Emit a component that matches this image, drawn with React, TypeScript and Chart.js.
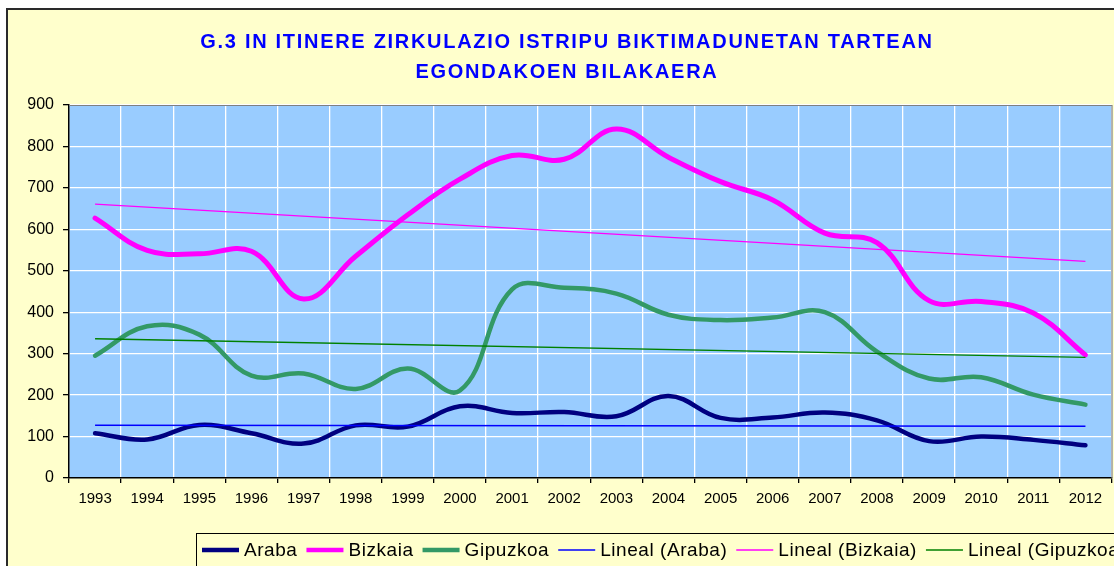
import React, { useEffect, useRef } from 'react';
import { Chart, registerables } from 'chart.js';

Chart.register(...registerables);

// ---- data ----
const years = ['1993', '1994', '1995', '1996', '1997', '1998', '1999', '2000', '2001', '2002',
  '2003', '2004', '2005', '2006', '2007', '2008', '2009', '2010', '2011', '2012'];

const araba = [108, 93, 128, 108, 83, 127, 124, 173, 157, 159, 149, 198, 145, 146, 158, 139, 89, 100, 92, 79];
const bizkaia = [627, 549, 541, 547, 432, 535, 635, 721, 778, 769, 842, 774, 715, 671, 591, 568, 428, 426, 398, 297];
const gipuzkoa = [295, 366, 346, 247, 252, 215, 264, 211, 455, 459, 445, 394, 381, 387, 400, 305, 240, 243, 201, 177];

// linear trend lines: value at first and last year
const arabaTrend = [127.5, 124.8];
const bizkaiaTrend = [661, 522.5];
const gipuzkoaTrend = [336, 291];

const yTicksMax = 900;
const yTicksStep = 100;

const titleLines = ['G.3 IN ITINERE ZIRKULAZIO ISTRIPU BIKTIMADUNETAN TARTEAN', 'EGONDAKOEN BILAKAERA'];

const FONT = '"Liberation Sans", Arial, sans-serif';

const trendData = (ends: number[]) =>
  years.map((_, i) => (i === 0 ? ends[0] : i === years.length - 1 ? ends[1] : null));

const setSpacing = (ctx: any, v: string) => {
  try { ctx.letterSpacing = v; } catch (e) { /* ignore */ }
};

const framePlugin = {
  id: 'excelFrame',
  beforeDraw(chart: any) {
    const { ctx, chartArea: a, width, height } = chart;
    ctx.save();
    ctx.fillStyle = '#ffffff';
    ctx.fillRect(0, 0, width, height);
    ctx.fillStyle = '#FFFFCC';
    ctx.fillRect(7, 9, width, height);
    ctx.strokeStyle = '#2a2a2a';
    ctx.lineWidth = 2;
    ctx.beginPath();
    ctx.moveTo(7, height);
    ctx.lineTo(7, 9);
    ctx.lineTo(width, 9);
    ctx.stroke();
    // plot area
    ctx.fillStyle = '#99CCFF';
    ctx.fillRect(a.left, a.top, a.right - a.left, a.bottom - a.top);
    // title
    ctx.fillStyle = '#0000FF';
    ctx.font = 'bold 20px ' + FONT;
    ctx.textAlign = 'center';
    ctx.textBaseline = 'middle';
    setSpacing(ctx, '1.7px');
    ctx.fillText(titleLines[0], 567, 42);
    ctx.fillText(titleLines[1], 567, 72);
    setSpacing(ctx, '0px');
    ctx.restore();
  },
  afterDraw(chart: any) {
    const { ctx, chartArea: a, width, height } = chart;
    ctx.save();
    // plot border top / right
    ctx.strokeStyle = '#808080';
    ctx.lineWidth = 1.2;
    ctx.beginPath();
    ctx.moveTo(a.left, a.top + 0.5);
    ctx.lineTo(a.right + 0.5, a.top + 0.5);
    ctx.lineTo(a.right + 0.5, a.bottom);
    ctx.stroke();

    // legend box
    ctx.fillStyle = '#FFFFCC';
    ctx.fillRect(196.5, 533.5, width, height);
    ctx.strokeStyle = '#000';
    ctx.lineWidth = 1;
    ctx.strokeRect(196.5, 533.5, width, height);

    // legend items
    const yMid = 550;
    let x = 202;
    ctx.font = '19px ' + FONT;
    ctx.textBaseline = 'middle';
    ctx.textAlign = 'left';
    setSpacing(ctx, '0.55px');
    chart.data.datasets.forEach((ds: any) => {
      ctx.strokeStyle = ds.borderColor;
      ctx.lineWidth = ds.borderWidth > 2 ? 4.5 : 1.5;
      ctx.lineCap = 'butt';
      ctx.beginPath();
      ctx.moveTo(x, yMid);
      ctx.lineTo(x + 37, yMid);
      ctx.stroke();
      x += 37 + 5;
      ctx.fillStyle = '#000';
      ctx.fillText(ds.label, x, yMid + 1);
      x += ctx.measureText(ds.label).width + 9;
    });
    setSpacing(ctx, '0px');
    ctx.restore();
  },
};

export default function App() {
  const ref = useRef<HTMLCanvasElement | null>(null);

  useEffect(() => {
    if (!ref.current) return;
    const thick = { pointRadius: 0, pointHoverRadius: 0, tension: 0.4, fill: false, borderCapStyle: 'round', borderJoinStyle: 'round', order: 2 };
    const thin = { pointRadius: 0, pointHoverRadius: 0, tension: 0, fill: false, spanGaps: true, order: 1 };
    const chart = new Chart(ref.current, {
      type: 'line',
      data: {
        labels: years,
        datasets: [
          { label: 'Araba', data: araba, borderColor: '#000080', backgroundColor: '#000080', borderWidth: 4.5, ...thick } as any,
          { label: 'Bizkaia', data: bizkaia, borderColor: '#FF00FF', backgroundColor: '#FF00FF', borderWidth: 5, ...thick } as any,
          { label: 'Gipuzkoa', data: gipuzkoa, borderColor: '#339966', backgroundColor: '#339966', borderWidth: 4.5, ...thick } as any,
          { label: 'Lineal (Araba)', data: trendData(arabaTrend), borderColor: '#0000FF', backgroundColor: '#0000FF', borderWidth: 1.5, ...thin } as any,
          { label: 'Lineal (Bizkaia)', data: trendData(bizkaiaTrend), borderColor: '#FF00FF', backgroundColor: '#FF00FF', borderWidth: 1.2, ...thin } as any,
          { label: 'Lineal (Gipuzkoa)', data: trendData(gipuzkoaTrend), borderColor: '#008000', backgroundColor: '#008000', borderWidth: 1.3, ...thin } as any,
        ],
      },
      options: {
        responsive: false,
        animation: false,
        devicePixelRatio: 1,
        events: [],
        layout: { padding: { left: 0, top: 105, right: 48.5, bottom: 0 } },
        plugins: {
          legend: { display: false },
          title: { display: false },
          tooltip: { enabled: false },
        },
        scales: {
          x: {
            type: 'category',
            offset: true,
            grid: { offset: true, color: '#ffffff', lineWidth: 1.3, tickLength: 5, tickColor: '#000', drawTicks: true },
            border: { display: true, color: '#000', width: 1.5 },
            ticks: { font: { family: FONT, size: 15 }, color: '#000', padding: 7, maxRotation: 0, autoSkip: false },
            afterFit: (s: any) => { s.height = 122; },
          },
          y: {
            min: 0,
            max: yTicksMax,
            ticks: { stepSize: yTicksStep, font: { family: FONT, size: 16 }, color: '#000', padding: 9 },
            grid: { color: '#ffffff', lineWidth: 1.3, tickLength: 6, tickColor: '#000' },
            border: { display: true, color: '#000', width: 1.5 },
            afterFit: (s: any) => { s.width = 69; },
          },
        },
      } as any,
      plugins: [framePlugin],
    });
    return () => chart.destroy();
  }, []);

  return (
    <div style={{ position: 'fixed', left: 0, top: 0, width: 1114, height: 566, overflow: 'hidden', background: '#fff' }}>
      <canvas ref={ref} width={1160} height={600} style={{ display: 'block' }} />
    </div>
  );
}
